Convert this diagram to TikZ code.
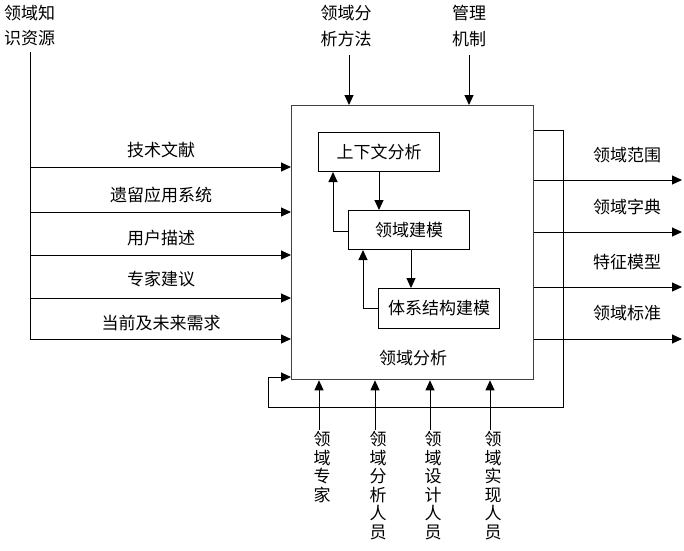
\documentclass[tikz,border=0pt]{standalone}
\usepackage{fontspec}
\newfontfamily\cjk{Noto Sans CJK SC}
\usetikzlibrary{arrows.meta}
\begin{document}
\begin{tikzpicture}[x=1pt,y=-1pt,
  arr/.style={-{Triangle[length=10pt,width=9pt]}, line width=1pt, black},
  ln/.style={line width=1pt, black},
  lbl/.style={font=\cjk\fontsize{17}{18}\selectfont, inner sep=0pt},
  vlbl/.style={font=\cjk\fontsize{17}{18.5}\selectfont, inner sep=0pt, align=center, anchor=north},
  subbox/.style={draw, line width=1pt, font=\cjk\fontsize{17}{18}\selectfont, inner sep=0pt, anchor=north west}
]
\useasboundingbox (0,0) rectangle (684,550);

% main box
\node[draw=black!75, line width=1.3pt, minimum width=242pt, minimum height=274pt, anchor=north west, inner sep=0pt] (main) at (291,105) {};
\node[lbl] (mainlbl) at (413,358) {领域分析};

% sub-boxes
\node[subbox, minimum width=121pt, minimum height=39pt] (ctx) at (318,132) {上下文分析};
\node[subbox, minimum width=121pt, minimum height=39pt] (dm) at (348,210) {领域建模};
\node[subbox, minimum width=121pt, minimum height=40pt] (arch) at (378,288) {体系结构建模};

% inner arrows
\draw[arr] (ctx.south -| 379,0) -- (dm.north -| 379,0);
\coordinate (fb1) at (333,231);
\draw[arr] (dm.west |- fb1) -- (fb1) -- (fb1 |- ctx.south);
\draw[arr] (dm.south -| 411,0) -- (arch.north -| 411,0);
\coordinate (fb2) at (363,308);
\draw[arr] (arch.west |- fb2) -- (fb2) -- (fb2 |- dm.south);

% top-left input source
\node[font=\cjk\fontsize{17}{25}\selectfont, inner sep=0pt, align=left, anchor=north west] (src) at (4,5) {领域知\\识资源};
\coordinate (srctop) at (30,52);
\coordinate (srcbot) at (30,339);
\draw[ln] (srctop) -- (srcbot);

% inputs
\foreach \y/\t/\ly in {167/技术文献/150, 212/遗留应用系统/195, 255/用户描述/238, 298/专家建议/279, 339/当前及未来需求/323}{
  \coordinate (in) at (30,\y);
  \draw[arr] (in) -- (in -| main.west);
  \node[lbl] at (161,\ly) {\t};
}

% controls
\node[font=\cjk\fontsize{17}{26}\selectfont, inner sep=0pt, align=center, anchor=north] (c1) at (346,5) {领域分\\析方法};
\node[font=\cjk\fontsize{17}{26}\selectfont, inner sep=0pt, align=center, anchor=north] (c2) at (469,5) {管理\\机制};
\coordinate (c1s) at (349,55);
\coordinate (c2s) at (469,55);
\draw[arr] (c1s) -- (c1s |- main.north);
\draw[arr] (c2s) -- (c2s |- main.north);

% outputs
\foreach \y/\t/\ly in {180/领域范围/155, 232/领域字典/207, 287/特征模型/262, 339/领域标准/313}{
  \coordinate (out) at (682,\y);
  \draw[arr] (out -| main.east) -- (out);
  \node[lbl] at (627,\ly) {\t};
}

% feedback loop
\coordinate (fa) at (563,130);
\coordinate (fb) at (563,407);
\coordinate (fc) at (268,407);
\coordinate (fd) at (268,377);
\draw[arr] (main.east |- fa) -- (fa) -- (fb) -- (fc) -- (fd) -- (fd -| main.west);

% mechanisms
\foreach \x/\lx/\t in {319/322/{领\\域\\专\\家}, 375/378/{领\\域\\分\\析\\人\\员}, 430/433/{领\\域\\设\\计\\人\\员}, 490/493/{领\\域\\实\\现\\人\\员}}{
  \coordinate (m) at (\x,430);
  \draw[arr] (m) -- (m |- main.south);
  \node[vlbl] at (\lx,431) {\t};
}
\end{tikzpicture}
\end{document}
